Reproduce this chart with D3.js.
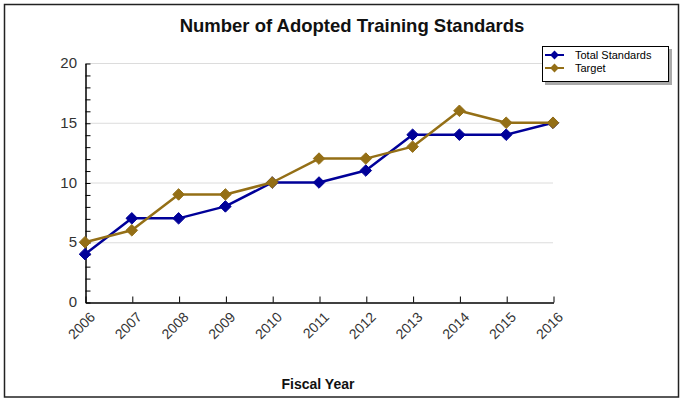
<!DOCTYPE html>
<html>
<head>
<meta charset="utf-8">
<script src="https://cdn.jsdelivr.net/npm/d3@7"></script>
<style>
  body { margin: 0; background: #fff; }
  svg { display: block; font-family: "Liberation Sans", Arial, sans-serif; }
</style>
</head>
<body>
<svg id="chart" width="681" height="400"></svg>
<script>
// Values
const years = ['2006', '2007', '2008', '2009', '2010', '2011', '2012', '2013', '2014', '2015', '2016'];
const totalStandards = [4, 7, 7, 8, 10, 10, 11, 14, 14, 14, 15];
const target = [5, 6, 9, 9, 10, 12, 12, 13, 16, 15, 15];
const yTicks = [0, 5, 10, 15, 20];
const seriesNames = ['Total Standards', 'Target'];
const seriesColors = ['#000099', '#946f16'];

const svg = d3.select('#chart');

// outer frame
svg.append('rect')
    .attr('x', 4.5).attr('y', 4.5)
    .attr('width', 674).attr('height', 392.5)
    .attr('fill', '#fff')
    .attr('stroke', '#222')
    .attr('stroke-width', 1.5);

const plotLeft = 85, plotRight = 553, plotTop = 63, plotBottom = 302;

const x = d3.scalePoint().domain(years).range([plotLeft, plotRight]);
const y = d3.scaleLinear().domain([0, 20]).range([plotBottom, plotTop]);

// gridlines
svg.append('g')
    .selectAll('line')
    .data(yTicks.filter(d => d > 0))
    .join('line')
    .attr('x1', plotLeft).attr('x2', plotRight)
    .attr('y1', d => y(d) + 0.5).attr('y2', d => y(d) + 0.5)
    .attr('stroke', '#dcdcdc');

// y axis: ticks point inward
const yAxis = svg.append('g')
    .attr('transform', `translate(${plotLeft + 0.5},0.5)`)
    .call(d3.axisLeft(y).tickValues(d3.range(0, 21, 1)).tickSizeInner(-5).tickSizeOuter(0).tickFormat(''));
yAxis.select('.domain').attr('stroke', '#000').attr('stroke-width', 1.5);
yAxis.selectAll('.tick line').attr('stroke', '#000');

svg.append('g')
    .selectAll('text')
    .data(yTicks)
    .join('text')
    .attr('x', plotLeft - 8)
    .attr('y', d => y(d) + 5)
    .attr('text-anchor', 'end')
    .attr('font-size', 15)
    .attr('fill', '#333')
    .text(d => d);

// x axis: ticks point upward
const xAxis = svg.append('g')
    .attr('transform', `translate(0.5,${plotBottom + 0.5})`)
    .call(d3.axisBottom(x).tickSizeInner(-6).tickSizeOuter(0).tickFormat(''));
xAxis.select('.domain').attr('stroke', '#000').attr('stroke-width', 1.5);
xAxis.selectAll('.tick line').attr('stroke', '#000');

svg.append('g')
    .selectAll('text')
    .data(years)
    .join('text')
    .attr('transform', d => `translate(${x(d) + 4},${plotBottom + 9}) rotate(-45)`)
    .attr('text-anchor', 'end')
    .attr('dy', '0.7em')
    .attr('font-size', 14)
    .attr('fill', '#333')
    .text(d => d);

// series
const line = d3.line().x((d, i) => x(years[i])).y(d => y(d));
const diamond = d3.symbol().type(d3.symbolDiamond2).size(85);

[totalStandards, target].forEach((vals, k) => {
    svg.append('path')
        .datum(vals)
        .attr('d', line)
        .attr('fill', 'none')
        .attr('stroke', seriesColors[k])
        .attr('stroke-width', 2.5)
        .attr('stroke-linejoin', 'round');
    svg.append('g')
        .selectAll('path')
        .data(vals)
        .join('path')
        .attr('transform', (d, i) => `translate(${x(years[i])},${y(d)})`)
        .attr('d', diamond)
        .attr('fill', seriesColors[k])
        .attr('stroke', seriesColors[k])
        .attr('stroke-width', 1)
        .attr('stroke-linejoin', 'round');
});

// title
svg.append('text')
    .attr('x', 352).attr('y', 32)
    .attr('text-anchor', 'middle')
    .attr('font-size', 18.5)
    .attr('font-weight', 'bold')
    .attr('fill', '#111')
    .text('Number of Adopted Training Standards');

svg.append('text')
    .attr('x', 318).attr('y', 389)
    .attr('text-anchor', 'middle')
    .attr('font-size', 14)
    .attr('font-weight', 'bold')
    .attr('fill', '#111')
    .text('Fiscal Year');

// legend
const lg = svg.append('g').attr('transform', 'translate(542,46)');
lg.append('rect').attr('x', 3).attr('y', 3).attr('width', 127).attr('height', 36).attr('fill', '#aaa');
lg.append('rect').attr('x', 0.5).attr('y', 0.5).attr('width', 126).attr('height', 35).attr('fill', '#fff').attr('stroke', '#000');
seriesNames.forEach((name, k) => {
    const cy = 9 + k * 13;
    lg.append('line').attr('x1', 3).attr('x2', 22).attr('y1', cy).attr('y2', cy)
        .attr('stroke', seriesColors[k]).attr('stroke-width', 2);
    lg.append('path').attr('transform', `translate(12.5,${cy})`)
        .attr('d', d3.symbol().type(d3.symbolDiamond2).size(50)).attr('fill', seriesColors[k]);
    lg.append('text').attr('x', 33).attr('y', cy + 4).attr('font-size', 11).attr('fill', '#000').text(name);
});
</script>
</body>
</html>
